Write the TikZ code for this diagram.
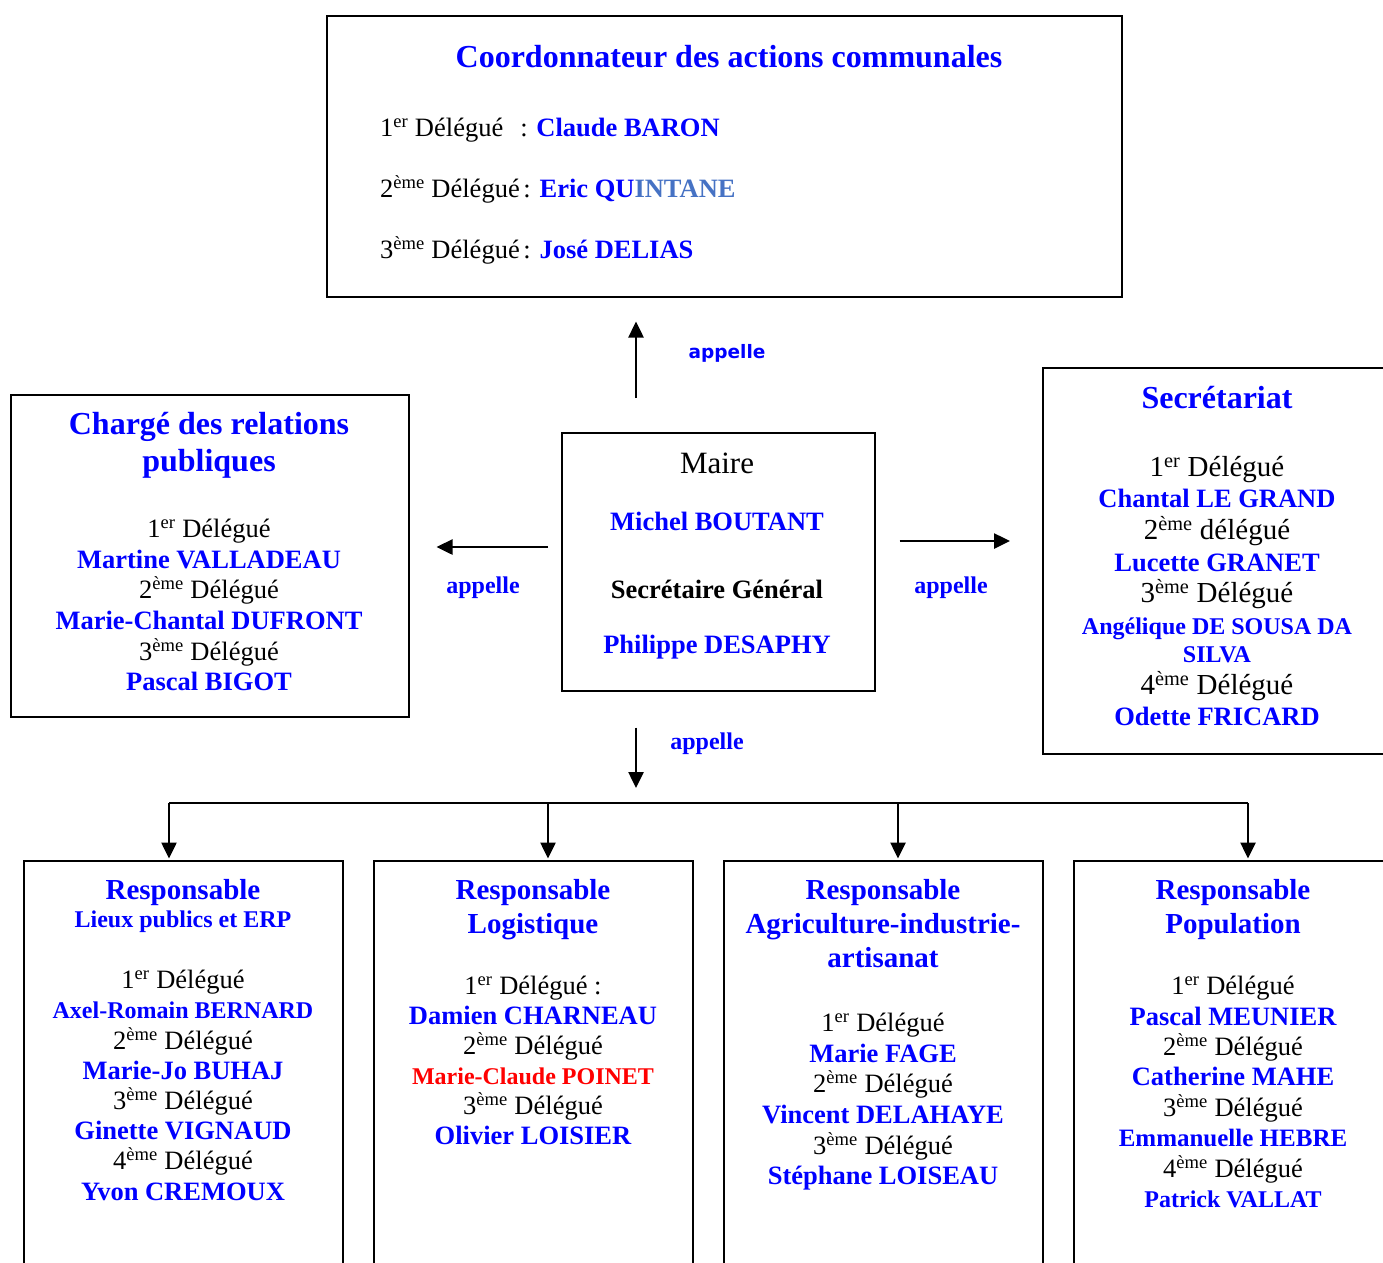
\documentclass[tikz,border=0pt]{standalone}
\usepackage{fontspec}
\setmainfont{Liberation Serif}
\newfontfamily\verdana{DejaVu Sans}
\usetikzlibrary{arrows.meta}

\definecolor{bleu}{RGB}{0,0,255}
\definecolor{bleugris}{RGB}{70,114,196}
\definecolor{rouge}{RGB}{255,0,0}

\newcommand\dlg[2]{#1\textsuperscript{#2} Délégué}
\newcommand\nom[1]{{\bfseries\color{bleu}#1}}
\newcommand\pnom[1]{{\fontsize{24}{24}\selectfont\bfseries\color{bleu}#1}}

\tikzset{
  cadre/.style={draw, line width=1.5pt, anchor=north west, inner sep=0pt},
  texte/.style={align=center, anchor=north, inner sep=0pt, font=\fontsize{26.5}{#1}\selectfont},
  texte/.default=30.5,
  titre/.style={align=center, anchor=north, inner sep=0pt, text=bleu, font=\bfseries\fontsize{29}{#1}\selectfont},
  titre/.default=34,
  fleche/.style={line width=2.5pt, -{Triangle[length=16pt,width=15pt]}},
  appel/.style={text=bleu, font=\bfseries\fontsize{24}{24}\selectfont, inner sep=0pt},
}

\begin{document}
\begin{tikzpicture}[x=1pt, y=-1pt]
  \clip (0,0) rectangle (1383,1262);

  % cadres
  \node[cadre, minimum width=795pt, minimum height=281pt] (coord)  at (326,15)  {};
  \node[cadre, minimum width=313pt, minimum height=258pt] (maire)  at (561,432) {};
  \node[cadre, minimum width=398pt, minimum height=322pt] (relpub) at (10,394)  {};
  \node[cadre, minimum width=400pt, minimum height=386pt] (secret) at (1042,367) {};
  \node[cadre, minimum width=319pt, minimum height=420pt] (b1) at (23,860)   {};
  \node[cadre, minimum width=319pt, minimum height=420pt] (b2) at (373,860)  {};
  \node[cadre, minimum width=319pt, minimum height=420pt] (b3) at (723,860)  {};
  \node[cadre, minimum width=319pt, minimum height=420pt] (b4) at (1073,860) {};

  % coordonnateur
  \node[titre, font=\bfseries\fontsize{32}{37}\selectfont] (coord-t) at (729,45)
    {Coordonnateur des actions communales};
  \node[anchor=north west, align=left, inner sep=0pt, font=\fontsize{26.5}{61}\selectfont] (coord-c) at (380,118)
    {\dlg{1}{er}\hspace{17pt}: \nom{Claude BARON}\\
     \dlg{2}{ème}\hspace{-3pt} : {\bfseries\color{bleu}Eric QU\color{bleugris}INTANE}\\
     \dlg{3}{ème}\hspace{-3pt} : \nom{José DELIAS}};

  % maire
  \node[texte] (maire-c) at (717,453)
    {{\fontsize{31}{31}\selectfont Maire}\\[26pt]
     \nom{Michel BOUTANT}\\[37.5pt]
     {\bfseries Secrétaire Général}\\[24.5pt]
     \nom{Philippe DESAPHY}};

  % relations publiques
  \node[titre=37, font=\bfseries\fontsize{32}{37}\selectfont] (relpub-t) at (209,412)
    {Chargé des relations\\publiques};
  \node[texte=30.6] (relpub-c) at (209,519)
    {\dlg{1}{er}\\ \nom{Martine VALLADEAU}\\ \dlg{2}{ème}\\
     \nom{Marie-Chantal DUFRONT}\\ \dlg{3}{ème}\\ \nom{Pascal BIGOT}};

  % secretariat
  \node[titre, font=\bfseries\fontsize{32}{37}\selectfont] (secret-t) at (1217,386) {Secrétariat};
  \node[texte=31.6] (secret-c) at (1217,456)
    {{\fontsize{29}{29}\selectfont\dlg{1}{er}}\\ \nom{Chantal LE GRAND}\\
     {\fontsize{29}{29}\selectfont 2\textsuperscript{ème} délégué}\\ \nom{Lucette GRANET}\\
     {\fontsize{29}{29}\selectfont\dlg{3}{ème}}\\ \pnom{Angélique DE SOUSA DA}\\[-3.5pt]
     \pnom{SILVA}\\ {\fontsize{29}{29}\selectfont\dlg{4}{ème}}\\ \nom{Odette FRICARD}};

  % responsables
  \node[titre=28.5] (b1-t) at (183,879)
    {Responsable\\{\fontsize{24}{24}\selectfont Lieux publics et ERP}};
  \node[texte=30.2] (b1-c) at (183,970)
    {\dlg{1}{er}\\ \pnom{Axel-Romain BERNARD}\\ \dlg{2}{ème}\\ \nom{Marie-Jo BUHAJ}\\
     \dlg{3}{ème}\\ \nom{Ginette VIGNAUD}\\ \dlg{4}{ème}\\ \nom{Yvon CREMOUX}};

  \node[titre] (b2-t) at (533,879) {Responsable\\Logistique};
  \node[texte=30] (b2-c) at (533,976)
    {\dlg{1}{er} :\\ \nom{Damien CHARNEAU}\\ \dlg{2}{ème}\\
     {\fontsize{24}{24}\selectfont\bfseries\color{rouge}Marie-Claude POINET}\\
     \dlg{3}{ème}\\ \nom{Olivier LOISIER}};

  \node[titre] (b3-t) at (883,879) {Responsable\\Agriculture-industrie-\\artisanat};
  \node[texte=30.6] (b3-c) at (883,1013)
    {\dlg{1}{er}\\ \nom{Marie FAGE}\\ \dlg{2}{ème}\\ \nom{Vincent DELAHAYE}\\
     \dlg{3}{ème}\\ \nom{Stéphane LOISEAU}};

  \node[titre] (b4-t) at (1233,879) {Responsable\\Population};
  \node[texte=30.4] (b4-c) at (1233,976)
    {\dlg{1}{er}\\ \nom{Pascal MEUNIER}\\ \dlg{2}{ème}\\ \nom{Catherine MAHE}\\
     \dlg{3}{ème}\\ {\fontsize{25}{25}\selectfont\bfseries\color{bleu}Emmanuelle HEBRE}\\
     \dlg{4}{ème}\\ \pnom{Patrick VALLAT}};

  % fleches
  \coordinate (h) at (636,0);
  \coordinate (g) at (0,547);
  \coordinate (d) at (0,541);
  \coordinate (bus) at (0,803);
  \draw[fleche, shorten <=34pt, shorten >=24pt] (maire.north -| h) -- (coord.south -| h);
  \draw[fleche, shorten <=13pt, shorten >=27pt] (maire.west |- g) -- (relpub.east |- g);
  \draw[fleche, shorten <=24pt, shorten >=32pt] (maire.east |- d) -- (secret.west |- d);
  \draw[fleche, shorten <=36pt, shorten >=15pt] (maire.south -| h) -- (bus -| h);

  \node[text=bleu, font=\verdana\bfseries\fontsize{18.5}{18.5}\selectfont, inner sep=0pt] (a-haut) at (727,353) {appelle};
  \node[appel] (a-gauche) at (483,588) {appelle};
  \node[appel] (a-droite) at (951,588) {appelle};
  \node[appel] (a-bas) at (707,744) {appelle};

  \foreach \x/\b in {169/b1, 548/b2, 898/b3, 1248/b4}
    \coordinate (p\b) at (\x,0);
  \draw[line width=2pt] (pb1 |- bus) -- (pb4 |- bus);
  \foreach \b in {b1, b2, b3, b4}
    \draw[fleche, shorten >=1.5pt] (p\b |- bus) -- (\b.north -| p\b);
\end{tikzpicture}
\end{document}
